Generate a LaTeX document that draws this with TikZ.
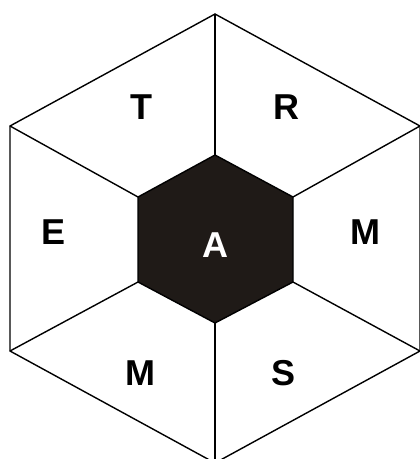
\documentclass[tikz,border=0pt]{standalone}
\usepackage{fontspec}
\setmainfont{Liberation Sans}
\definecolor{core}{HTML}{1F1A17}
\begin{document}
\begin{tikzpicture}[x=1pt,y=-1pt,
  edge/.style={draw=black,line width=1.4pt,line join=miter},
  lbl/.style={font=\fontsize{36}{36}\selectfont\bfseries,inner sep=0pt,anchor=center},
  corelbl/.style={lbl,text=white}]
\useasboundingbox (0,0) rectangle (420,459);
% outer vertices
\coordinate (o1) at (215,14);
\coordinate (o2) at (420,126);
\coordinate (o3) at (420,351);
\coordinate (o4) at (215,463);
\coordinate (o5) at (10,351);
\coordinate (o6) at (10,126);
% inner vertices
\coordinate (i1) at (215,155);
\coordinate (i2) at (293,197);
\coordinate (i3) at (293,282);
\coordinate (i4) at (215,323);
\coordinate (i5) at (138,282);
\coordinate (i6) at (138,197);
\draw[edge] (o1) -- (o2) -- (o3) -- (o4) -- (o5) -- (o6) -- cycle;
\foreach \k in {1,...,6} { \draw[edge] (i\k) -- (o\k); }
\draw[edge,fill=core] (i1) -- (i2) -- (i3) -- (i4) -- (i5) -- (i6) -- cycle;
\node[lbl] (t) at (141,107) {T};
\node[lbl] (r) at (286,107) {R};
\node[lbl] (e) at (54,232) {E};
\node[lbl] (m1) at (365,232) {M};
\node[lbl] (m2) at (140,373) {M};
\node[lbl] (s) at (284,373) {S};
\node[corelbl] (a) at (215,245) {A};
\end{tikzpicture}
\end{document}
